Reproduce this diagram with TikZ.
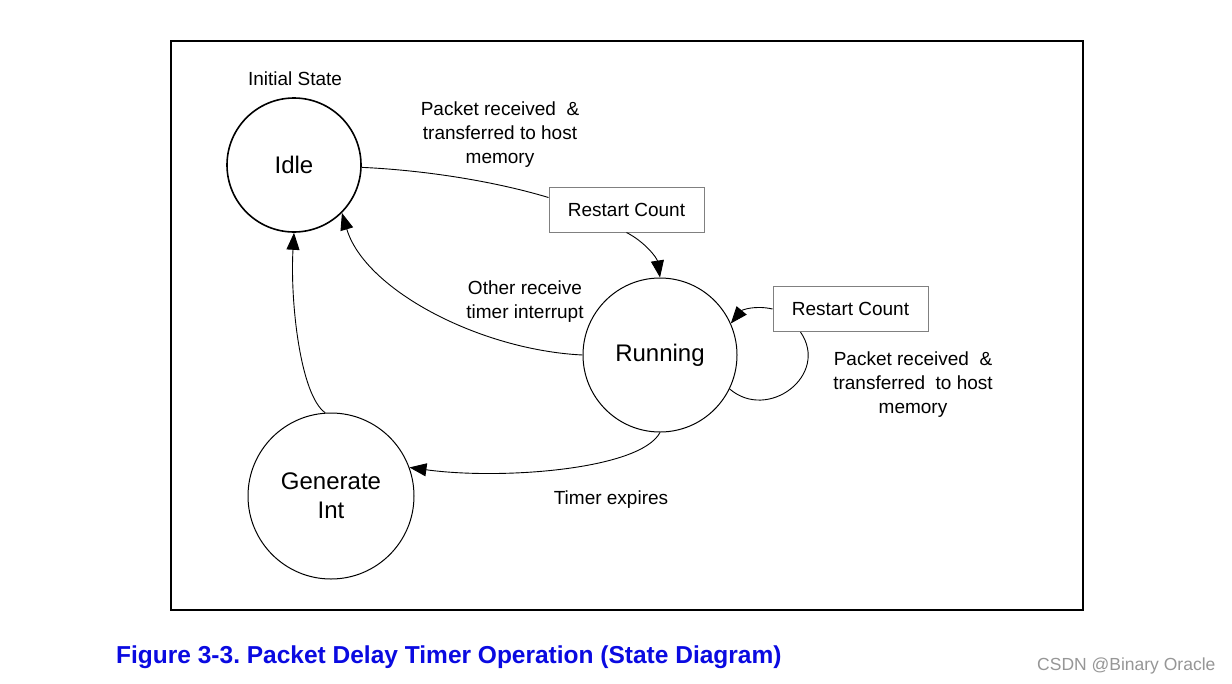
\documentclass[tikz,border=0pt]{standalone}
\usepackage{fontspec}
\setmainfont{Liberation Sans}
\usetikzlibrary{arrows.meta}
\definecolor{capblue}{RGB}{10,10,225}
\definecolor{boxgray}{RGB}{128,128,128}
\definecolor{wmgray}{RGB}{150,150,150}
\frenchspacing
\begin{document}
\begin{tikzpicture}[x=1pt,y=-1pt,
  state/.style={draw,circle,line width=1pt,inner sep=0pt,align=center,font=\fontsize{24}{29}\selectfont},
  rbox/.style={draw=boxgray,line width=1pt,minimum width=155pt,minimum height=45pt,inner sep=0pt,font=\fontsize{19}{24}\selectfont},
  lbl/.style={align=center,inner sep=0pt,font=\fontsize{19}{24}\selectfont},
  edge/.style={line width=0.9pt},
  arr/.style={line width=0.9pt,-{Triangle[length=17pt,width=13pt]}}]
\useasboundingbox (0,0) rectangle (1232,683);
\fill[white] (0,0) rectangle (1232,683);
\draw[line width=1.8pt] (171,41) rectangle (1083,610);

\node[state,line width=1.6pt,minimum size=134pt] (idle) at (294,165) {Idle};
\node[state,minimum size=154pt] (run) at (660,355) {Running};
\node[state,minimum size=166pt] (gen) at (331,496) {Generate\\Int};

\node[rbox] (b1) at (626.5,209.5) {Restart Count};
\node[rbox] (b2) at (850.5,309) {Restart Count};

\node[lbl] (init) at (295,79) {Initial State};
\node[lbl] (l1) at (500,135) {Packet received~~\&\\transferred to host\\memory};
\node[lbl] (l2) at (525,302) {Other receive\\timer interrupt};
\node[lbl] (l3) at (913,385) {Packet received~~\&\\transferred~~to host\\memory};
\node[lbl] (l4) at (611,500) {Timer expires};

\draw[edge] (idle.-2) .. controls (420,170) and (490,180) .. ([yshift=12pt]b1.west);
\draw[arr] (b1.south) .. controls (645,242) and (657,258) .. (run.north);
\draw[arr] (run.west) .. controls (480,350) and (365,290) .. (idle.-45);
\draw[arr] (gen.94) .. controls (300,395) and (290,300) .. (idle.south);
\draw[arr] (run.south) .. controls (640,470) and (500,480) .. (gen.20);
\draw[edge] (run.-26) .. controls (768,422) and (830,375) .. ([xshift=-50pt]b2.south);
\draw[arr] (b2.west) .. controls (755,305) and (742,310) .. (run.24);

\node[anchor=base west,inner sep=0pt,text=capblue,font=\fontsize{24.5}{28}\selectfont\bfseries] (cap) at (116,663) {Figure 3-3. Packet Delay Timer Operation (State Diagram)};
\node[anchor=base west,inner sep=0pt,text=wmgray,font=\fontsize{17.5}{20}\selectfont] (wm) at (1037,670) {CSDN @Binary Oracle};
\end{tikzpicture}
\end{document}
